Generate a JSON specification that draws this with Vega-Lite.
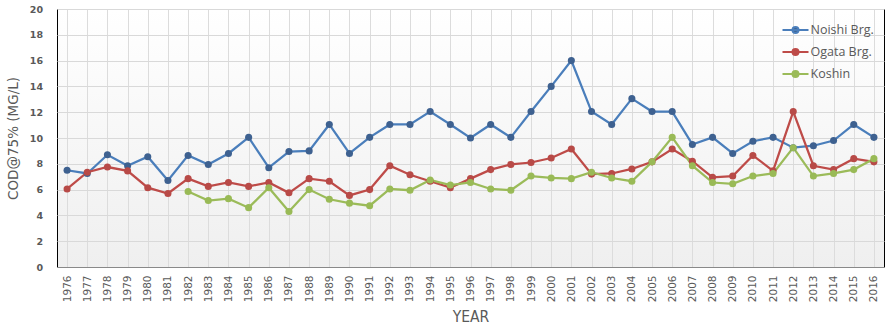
{
  "$schema": "https://vega.github.io/schema/vega-lite/v6.json",
  "width": 827,
  "height": 258,
  "autosize": {"type": "none"},
  "padding": {"left": 57, "top": 9, "right": 12, "bottom": 63},
  "background": "#ffffff",
  "config": {
    "view": {
      "stroke": "#000000",
      "strokeWidth": 1,
      "fill": {"gradient": "linear", "x1": 0, "y1": 0, "x2": 0, "y2": 1, "stops": [{"offset": 0, "color": "#ffffff"}, {"offset": 1, "color": "#efefef"}]}
    }
  },
  "data": {
    "values": [
      {"year": "1976", "series": "Noishi Brg.", "value": 7.5},
      {"year": "1977", "series": "Noishi Brg.", "value": 7.25},
      {"year": "1978", "series": "Noishi Brg.", "value": 8.7},
      {"year": "1979", "series": "Noishi Brg.", "value": 7.85},
      {"year": "1980", "series": "Noishi Brg.", "value": 8.55},
      {"year": "1981", "series": "Noishi Brg.", "value": 6.7},
      {"year": "1982", "series": "Noishi Brg.", "value": 8.65},
      {"year": "1983", "series": "Noishi Brg.", "value": 7.95},
      {"year": "1984", "series": "Noishi Brg.", "value": 8.8},
      {"year": "1985", "series": "Noishi Brg.", "value": 10.05},
      {"year": "1986", "series": "Noishi Brg.", "value": 7.7},
      {"year": "1987", "series": "Noishi Brg.", "value": 8.95},
      {"year": "1988", "series": "Noishi Brg.", "value": 9.0},
      {"year": "1989", "series": "Noishi Brg.", "value": 11.05},
      {"year": "1990", "series": "Noishi Brg.", "value": 8.8},
      {"year": "1991", "series": "Noishi Brg.", "value": 10.05},
      {"year": "1992", "series": "Noishi Brg.", "value": 11.05},
      {"year": "1993", "series": "Noishi Brg.", "value": 11.05},
      {"year": "1994", "series": "Noishi Brg.", "value": 12.05},
      {"year": "1995", "series": "Noishi Brg.", "value": 11.05},
      {"year": "1996", "series": "Noishi Brg.", "value": 10.0},
      {"year": "1997", "series": "Noishi Brg.", "value": 11.05},
      {"year": "1998", "series": "Noishi Brg.", "value": 10.05},
      {"year": "1999", "series": "Noishi Brg.", "value": 12.05},
      {"year": "2000", "series": "Noishi Brg.", "value": 14.0},
      {"year": "2001", "series": "Noishi Brg.", "value": 16.0},
      {"year": "2002", "series": "Noishi Brg.", "value": 12.05},
      {"year": "2003", "series": "Noishi Brg.", "value": 11.05},
      {"year": "2004", "series": "Noishi Brg.", "value": 13.05},
      {"year": "2005", "series": "Noishi Brg.", "value": 12.05},
      {"year": "2006", "series": "Noishi Brg.", "value": 12.05},
      {"year": "2007", "series": "Noishi Brg.", "value": 9.5},
      {"year": "2008", "series": "Noishi Brg.", "value": 10.05},
      {"year": "2009", "series": "Noishi Brg.", "value": 8.8},
      {"year": "2010", "series": "Noishi Brg.", "value": 9.75},
      {"year": "2011", "series": "Noishi Brg.", "value": 10.05},
      {"year": "2012", "series": "Noishi Brg.", "value": 9.25},
      {"year": "2013", "series": "Noishi Brg.", "value": 9.4},
      {"year": "2014", "series": "Noishi Brg.", "value": 9.8},
      {"year": "2015", "series": "Noishi Brg.", "value": 11.05},
      {"year": "2016", "series": "Noishi Brg.", "value": 10.05},
      {"year": "1976", "series": "Ogata Brg.", "value": 6.05},
      {"year": "1977", "series": "Ogata Brg.", "value": 7.35},
      {"year": "1978", "series": "Ogata Brg.", "value": 7.75},
      {"year": "1979", "series": "Ogata Brg.", "value": 7.45},
      {"year": "1980", "series": "Ogata Brg.", "value": 6.15},
      {"year": "1981", "series": "Ogata Brg.", "value": 5.7},
      {"year": "1982", "series": "Ogata Brg.", "value": 6.85},
      {"year": "1983", "series": "Ogata Brg.", "value": 6.25},
      {"year": "1984", "series": "Ogata Brg.", "value": 6.55},
      {"year": "1985", "series": "Ogata Brg.", "value": 6.25},
      {"year": "1986", "series": "Ogata Brg.", "value": 6.55},
      {"year": "1987", "series": "Ogata Brg.", "value": 5.75},
      {"year": "1988", "series": "Ogata Brg.", "value": 6.85},
      {"year": "1989", "series": "Ogata Brg.", "value": 6.65},
      {"year": "1990", "series": "Ogata Brg.", "value": 5.55},
      {"year": "1991", "series": "Ogata Brg.", "value": 6.0},
      {"year": "1992", "series": "Ogata Brg.", "value": 7.85},
      {"year": "1993", "series": "Ogata Brg.", "value": 7.15},
      {"year": "1994", "series": "Ogata Brg.", "value": 6.65},
      {"year": "1995", "series": "Ogata Brg.", "value": 6.15},
      {"year": "1996", "series": "Ogata Brg.", "value": 6.85},
      {"year": "1997", "series": "Ogata Brg.", "value": 7.55},
      {"year": "1998", "series": "Ogata Brg.", "value": 7.95},
      {"year": "1999", "series": "Ogata Brg.", "value": 8.1},
      {"year": "2000", "series": "Ogata Brg.", "value": 8.45},
      {"year": "2001", "series": "Ogata Brg.", "value": 9.15},
      {"year": "2002", "series": "Ogata Brg.", "value": 7.2},
      {"year": "2003", "series": "Ogata Brg.", "value": 7.25},
      {"year": "2004", "series": "Ogata Brg.", "value": 7.6},
      {"year": "2005", "series": "Ogata Brg.", "value": 8.15},
      {"year": "2006", "series": "Ogata Brg.", "value": 9.15},
      {"year": "2007", "series": "Ogata Brg.", "value": 8.2},
      {"year": "2008", "series": "Ogata Brg.", "value": 6.95},
      {"year": "2009", "series": "Ogata Brg.", "value": 7.05},
      {"year": "2010", "series": "Ogata Brg.", "value": 8.65},
      {"year": "2011", "series": "Ogata Brg.", "value": 7.45},
      {"year": "2012", "series": "Ogata Brg.", "value": 12.05},
      {"year": "2013", "series": "Ogata Brg.", "value": 7.85},
      {"year": "2014", "series": "Ogata Brg.", "value": 7.55},
      {"year": "2015", "series": "Ogata Brg.", "value": 8.4},
      {"year": "2016", "series": "Ogata Brg.", "value": 8.15},
      {"year": "1982", "series": "Koshin", "value": 5.85},
      {"year": "1983", "series": "Koshin", "value": 5.15},
      {"year": "1984", "series": "Koshin", "value": 5.3},
      {"year": "1985", "series": "Koshin", "value": 4.6},
      {"year": "1986", "series": "Koshin", "value": 6.15},
      {"year": "1987", "series": "Koshin", "value": 4.3},
      {"year": "1988", "series": "Koshin", "value": 6.0},
      {"year": "1989", "series": "Koshin", "value": 5.25},
      {"year": "1990", "series": "Koshin", "value": 4.95},
      {"year": "1991", "series": "Koshin", "value": 4.75},
      {"year": "1992", "series": "Koshin", "value": 6.05},
      {"year": "1993", "series": "Koshin", "value": 5.95},
      {"year": "1994", "series": "Koshin", "value": 6.75},
      {"year": "1995", "series": "Koshin", "value": 6.35},
      {"year": "1996", "series": "Koshin", "value": 6.55},
      {"year": "1997", "series": "Koshin", "value": 6.05},
      {"year": "1998", "series": "Koshin", "value": 5.95},
      {"year": "1999", "series": "Koshin", "value": 7.05},
      {"year": "2000", "series": "Koshin", "value": 6.9},
      {"year": "2001", "series": "Koshin", "value": 6.85},
      {"year": "2002", "series": "Koshin", "value": 7.35},
      {"year": "2003", "series": "Koshin", "value": 6.9},
      {"year": "2004", "series": "Koshin", "value": 6.65},
      {"year": "2005", "series": "Koshin", "value": 8.15},
      {"year": "2006", "series": "Koshin", "value": 10.05},
      {"year": "2007", "series": "Koshin", "value": 7.85},
      {"year": "2008", "series": "Koshin", "value": 6.55},
      {"year": "2009", "series": "Koshin", "value": 6.45},
      {"year": "2010", "series": "Koshin", "value": 7.05},
      {"year": "2011", "series": "Koshin", "value": 7.25},
      {"year": "2012", "series": "Koshin", "value": 9.25},
      {"year": "2013", "series": "Koshin", "value": 7.05},
      {"year": "2014", "series": "Koshin", "value": 7.25},
      {"year": "2015", "series": "Koshin", "value": 7.55},
      {"year": "2016", "series": "Koshin", "value": 8.4}
    ]
  },
  "encoding": {
    "x": {
      "field": "year",
      "type": "ordinal",
      "scale": {"type": "point", "padding": 0.5},
      "axis": {
        "title": "YEAR",
        "titleFont": "Liberation Sans Narrow, DejaVu Sans Condensed, sans-serif",
        "titleFontSize": 15.5,
        "titleFontWeight": "normal",
        "titleColor": "#595959",
        "titlePadding": 8,
        "labelAngle": -90,
        "labelFont": "DejaVu Sans",
        "labelFontSize": 10.5,
        "labelColor": "#595959",
        "labelPadding": 8,
        "ticks": false,
        "tickSize": 0,
        "domainColor": "#898989",
        "domainWidth": 1,
        "grid": true,
        "gridColor": "#dcdcdc",
        "gridWidth": 1
      }
    },
    "y": {
      "field": "value",
      "type": "quantitative",
      "scale": {"domain": [0, 20], "nice": false, "zero": true},
      "axis": {
        "title": "COD@75% (MG/L)",
        "titleFont": "DejaVu Sans",
        "titleFontSize": 13.5,
        "titleFontWeight": "normal",
        "titleColor": "#595959",
        "titlePadding": 9,
        "values": [0, 2, 4, 6, 8, 10, 12, 14, 16, 18, 20],
        "labelFont": "DejaVu Sans",
        "labelFontSize": 9.5,
        "labelFontWeight": "bold",
        "labelColor": "#595959",
        "labelPadding": 14.5,
        "ticks": false,
        "tickSize": 0,
        "domain": false,
        "grid": true,
        "gridColor": "#d9d9d9",
        "gridWidth": 1
      }
    }
  },
  "layer": [
    {
      "mark": {"type": "line", "strokeWidth": 2.25},
      "encoding": {
        "stroke": {
          "field": "series",
          "type": "nominal",
          "scale": {"domain": ["Noishi Brg.", "Ogata Brg.", "Koshin"], "range": ["#4a7ebb", "#be4b48", "#9bbb59"]},
          "legend": {
            "title": null,
            "orient": "none",
            "legendX": 727.5,
            "legendY": 10,
            "symbolType": "M-1.3,0H1.3M-0.3,0A0.3,0.3 0 1,0 0.3,0A0.3,0.3 0 1,0 -0.3,0",
            "symbolSize": 400,
            "symbolStrokeWidth": 2,
            "labelFont": "Open Sans",
            "labelFontSize": 12.5,
            "labelColor": "#595959",
            "labelOffset": 4,
            "rowPadding": 4,
            "padding": 0,
            "encode": {"symbols": {"update": {"fill": {"scale": "fill", "field": "value"}, "fillOpacity": {"value": 1}}}}
          }
        }
      }
    },
    {
      "mark": {"type": "point", "filled": true, "size": 50, "opacity": 1},
      "encoding": {
        "fill": {
          "field": "series",
          "type": "nominal",
          "scale": {"domain": ["Noishi Brg.", "Ogata Brg.", "Koshin"], "range": ["#3e6190", "#b84a47", "#99ba56"]},
          "legend": null
        }
      }
    }
  ]
}
